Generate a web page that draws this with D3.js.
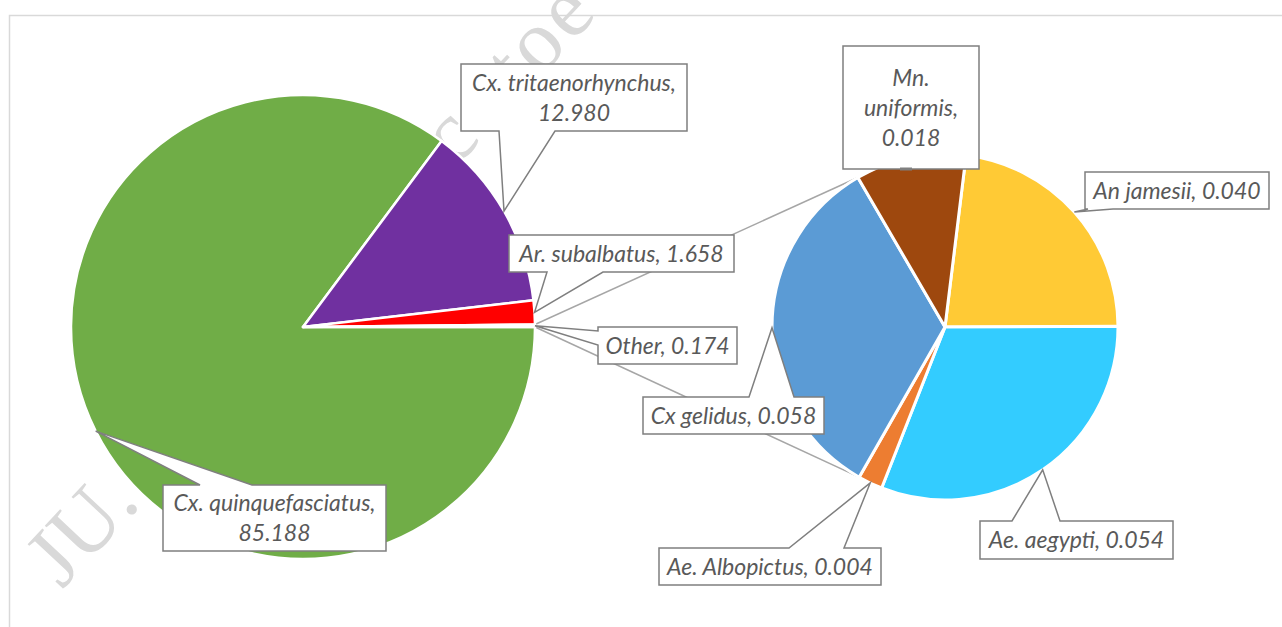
<!DOCTYPE html>
<html>
<head>
<meta charset="utf-8">
<script src="https://cdn.jsdelivr.net/npm/d3@7"></script>
<style>
  html, body { margin: 0; padding: 0; background: #fff; }
  svg { display: block; }
</style>
</head>
<body>
<svg width="1282" height="627"></svg>
<script>
// main pie: the last slice ("Other") is broken out into the second pie
var mainNames = ["Cx. quinquefasciatus", "Cx. tritaenorhynchus", "Ar. subalbatus", "Other"];
var mainValues = [85.188, 12.980, 1.658, 0.174];
var mainColors = ["#70ad47", "#7030a0", "#ff0000", "#ffffff"];

var subNames = ["An jamesii", "Ae. aegypti", "Ae. Albopictus", "Cx gelidus", "Mn. uniformis"];
var subValues = [0.040, 0.054, 0.004, 0.058, 0.018];
var subColors = ["#ffca35", "#33ccff", "#ed7d31", "#5b9bd5", "#9e480e"];

// label boxes: [x, y, w, h], pointer side, pointer base, how the text wraps
var labelLayout = {
  "Cx. quinquefasciatus": { box: [163, 485, 223, 66], side: "top", base: [200, 252], wrap: 2 },
  "Cx. tritaenorhynchus": { box: [461, 64, 226, 67], side: "bottom", base: [499, 555], wrap: 2 },
  "Ar. subalbatus":       { box: [509, 235, 225, 37], side: "bottom", base: [547, 603], wrap: 1 },
  "Other":                { box: [598, 327, 139, 37], side: "left", base: [331, 345], wrap: 1 },
  "An jamesii":           { box: [1085, 172, 184, 37], side: "bottom", base: [1088, 1113], wrap: 1 },
  "Ae. aegypti":          { box: [980, 521, 193, 38], side: "top", base: [1012, 1060], wrap: 1 },
  "Ae. Albopictus":       { box: [659, 548, 222, 37], side: "top", base: [789, 844], wrap: 1 },
  "Cx gelidus":           { box: [643, 397, 181, 37], side: "top", base: [749, 794], wrap: 1 },
  "Mn. uniformis":        { box: [843, 46, 136, 123], side: "none", base: [900, 912], wrap: 3 }
};

var svg = d3.select("svg"),
    width = +svg.attr("width"),
    height = +svg.attr("height");

var rad = Math.PI / 180;

var main = { cx: 303, cy: 327, r: 232, start: 90 };
var sub = { cx: 945, cy: 327, r: 173, start: 7 };

var mainArcs = d3.pie().sort(null).startAngle(main.start * rad).endAngle((main.start + 360) * rad)(mainValues);
var subArcs = d3.pie().sort(null).startAngle(sub.start * rad).endAngle((sub.start + 360) * rad)(subValues);

function edgePoint(p, a) {
  return [p.cx + p.r * Math.sin(a), p.cy - p.r * Math.cos(a)];
}

// chart area border
svg.append("rect")
  .attr("x", 9.5).attr("y", 15.5)
  .attr("width", width + 20).attr("height", height + 20)
  .attr("fill", "none")
  .attr("stroke", "#d9d9d9")
  .attr("stroke-width", 1.5);

// watermark, sits behind the chart
var wm = svg.append("g")
  .attr("transform", "translate(62,590) rotate(-47)")
  .attr("fill", "#d9d9d9")
  .style("font-family", "'Liberation Serif', serif")
  .style("font-size", "86px");
wm.append("text").attr("x", 0).attr("y", 0).text("JU.");
wm.append("text").attr("x", 540).attr("y", 0).attr("letter-spacing", 4).text("sc itoe");

// lines joining the "Other" slice to the second pie
var other = mainArcs[mainArcs.length - 1];
var gelidus = subArcs[3];
var joins = [
  [edgePoint(main, other.startAngle), edgePoint(sub, gelidus.endAngle)],
  [edgePoint(main, other.endAngle), edgePoint(sub, gelidus.startAngle)]
];
svg.append("g").selectAll("line")
  .data(joins)
  .enter().append("line")
  .attr("x1", function(d) { return d[0][0]; })
  .attr("y1", function(d) { return d[0][1]; })
  .attr("x2", function(d) { return d[1][0]; })
  .attr("y2", function(d) { return d[1][1]; })
  .attr("stroke", "#a6a6a6")
  .attr("stroke-width", 1.5);

// the two pies
var mainArc = d3.arc().innerRadius(0).outerRadius(main.r);
var subArc = d3.arc().innerRadius(0).outerRadius(sub.r);

svg.append("g")
  .attr("transform", "translate(" + main.cx + "," + main.cy + ")")
  .selectAll("path")
  .data(mainArcs)
  .enter().append("path")
  .attr("d", mainArc)
  .attr("fill", function(d, i) { return mainColors[i]; })
  .attr("stroke", "#fff")
  .attr("stroke-width", 2.5)
  .attr("stroke-linejoin", "round");

svg.append("g")
  .attr("transform", "translate(" + sub.cx + "," + sub.cy + ")")
  .selectAll("path")
  .data(subArcs)
  .enter().append("path")
  .attr("d", subArc)
  .attr("fill", function(d, i) { return subColors[i]; })
  .attr("stroke", "#fff")
  .attr("stroke-width", 3)
  .attr("stroke-linejoin", "round");

// callout labels
var labels = [];
mainArcs.forEach(function(d, i) {
  labels.push({ name: mainNames[i], value: mainValues[i], tip: edgePoint(main, (d.startAngle + d.endAngle) / 2) });
});
subArcs.forEach(function(d, i) {
  labels.push({ name: subNames[i], value: subValues[i], tip: edgePoint(sub, (d.startAngle + d.endAngle) / 2) });
});

function calloutPath(L, tip) {
  var x0 = L.box[0], y0 = L.box[1], x1 = x0 + L.box[2], y1 = y0 + L.box[3];
  var b = L.base, p = [];
  p.push([x0, y0]);
  if (L.side === "top") p.push([b[0], y0], tip, [b[1], y0]);
  p.push([x1, y0], [x1, y1]);
  if (L.side === "bottom") p.push([b[1], y1], tip, [b[0], y1]);
  p.push([x0, y1]);
  if (L.side === "left") p.push([x0, b[1]], tip, [x0, b[0]]);
  return "M" + p.map(function(q) { return q[0] + "," + q[1]; }).join("L") + "Z";
}

function labelLines(d, wrap) {
  var v = d.value.toFixed(3);
  if (wrap === 1) return [d.name + ", " + v];
  if (wrap === 2) return [d.name + ",", v];
  var parts = d.name.split(" ");
  return [parts[0], parts.slice(1).join(" ") + ",", v];
}

var callouts = svg.append("g").selectAll("g")
  .data(labels)
  .enter().append("g")
  .attr("class", "callout");

callouts.append("path")
  .attr("d", function(d) { return calloutPath(labelLayout[d.name], d.tip); })
  .attr("fill", "#fff")
  .attr("stroke", "#7f7f7f")
  .attr("stroke-width", 1.5)
  .attr("stroke-linejoin", "miter");

// Mn. uniformis points into its own box: only a small stub shows
callouts.filter(function(d) { return labelLayout[d.name].side === "none"; })
  .append("line")
  .attr("x1", function(d) { return labelLayout[d.name].base[0]; })
  .attr("x2", function(d) { return labelLayout[d.name].base[1]; })
  .attr("y1", function(d) { var b = labelLayout[d.name].box; return b[1] + b[3]; })
  .attr("y2", function(d) { var b = labelLayout[d.name].box; return b[1] + b[3]; })
  .attr("stroke", "#7f7f7f")
  .attr("stroke-width", 3);

var lineGap = 30;
callouts.each(function(d) {
  var L = labelLayout[d.name];
  var lines = labelLines(d, L.wrap);
  var cx = L.box[0] + L.box[2] / 2;
  var cy = L.box[1] + L.box[3] / 2;
  var g = d3.select(this);
  lines.forEach(function(s, i) {
    var t = g.append("text")
      .attr("x", cx)
      .attr("y", cy + (i - (lines.length - 1) / 2) * lineGap + 8)
      .attr("text-anchor", "middle")
      .attr("fill", "#595959")
      .style("font-family", "Lato, 'Open Sans', sans-serif")
      .style("font-style", "italic")
      .style("font-size", "23px")
      .text(s);
    var room = L.box[2] - 15;
    if (t.node().getComputedTextLength() > room) {
      t.attr("textLength", room).attr("lengthAdjust", "spacingAndGlyphs");
    }
  });
});
</script>
</body>
</html>
